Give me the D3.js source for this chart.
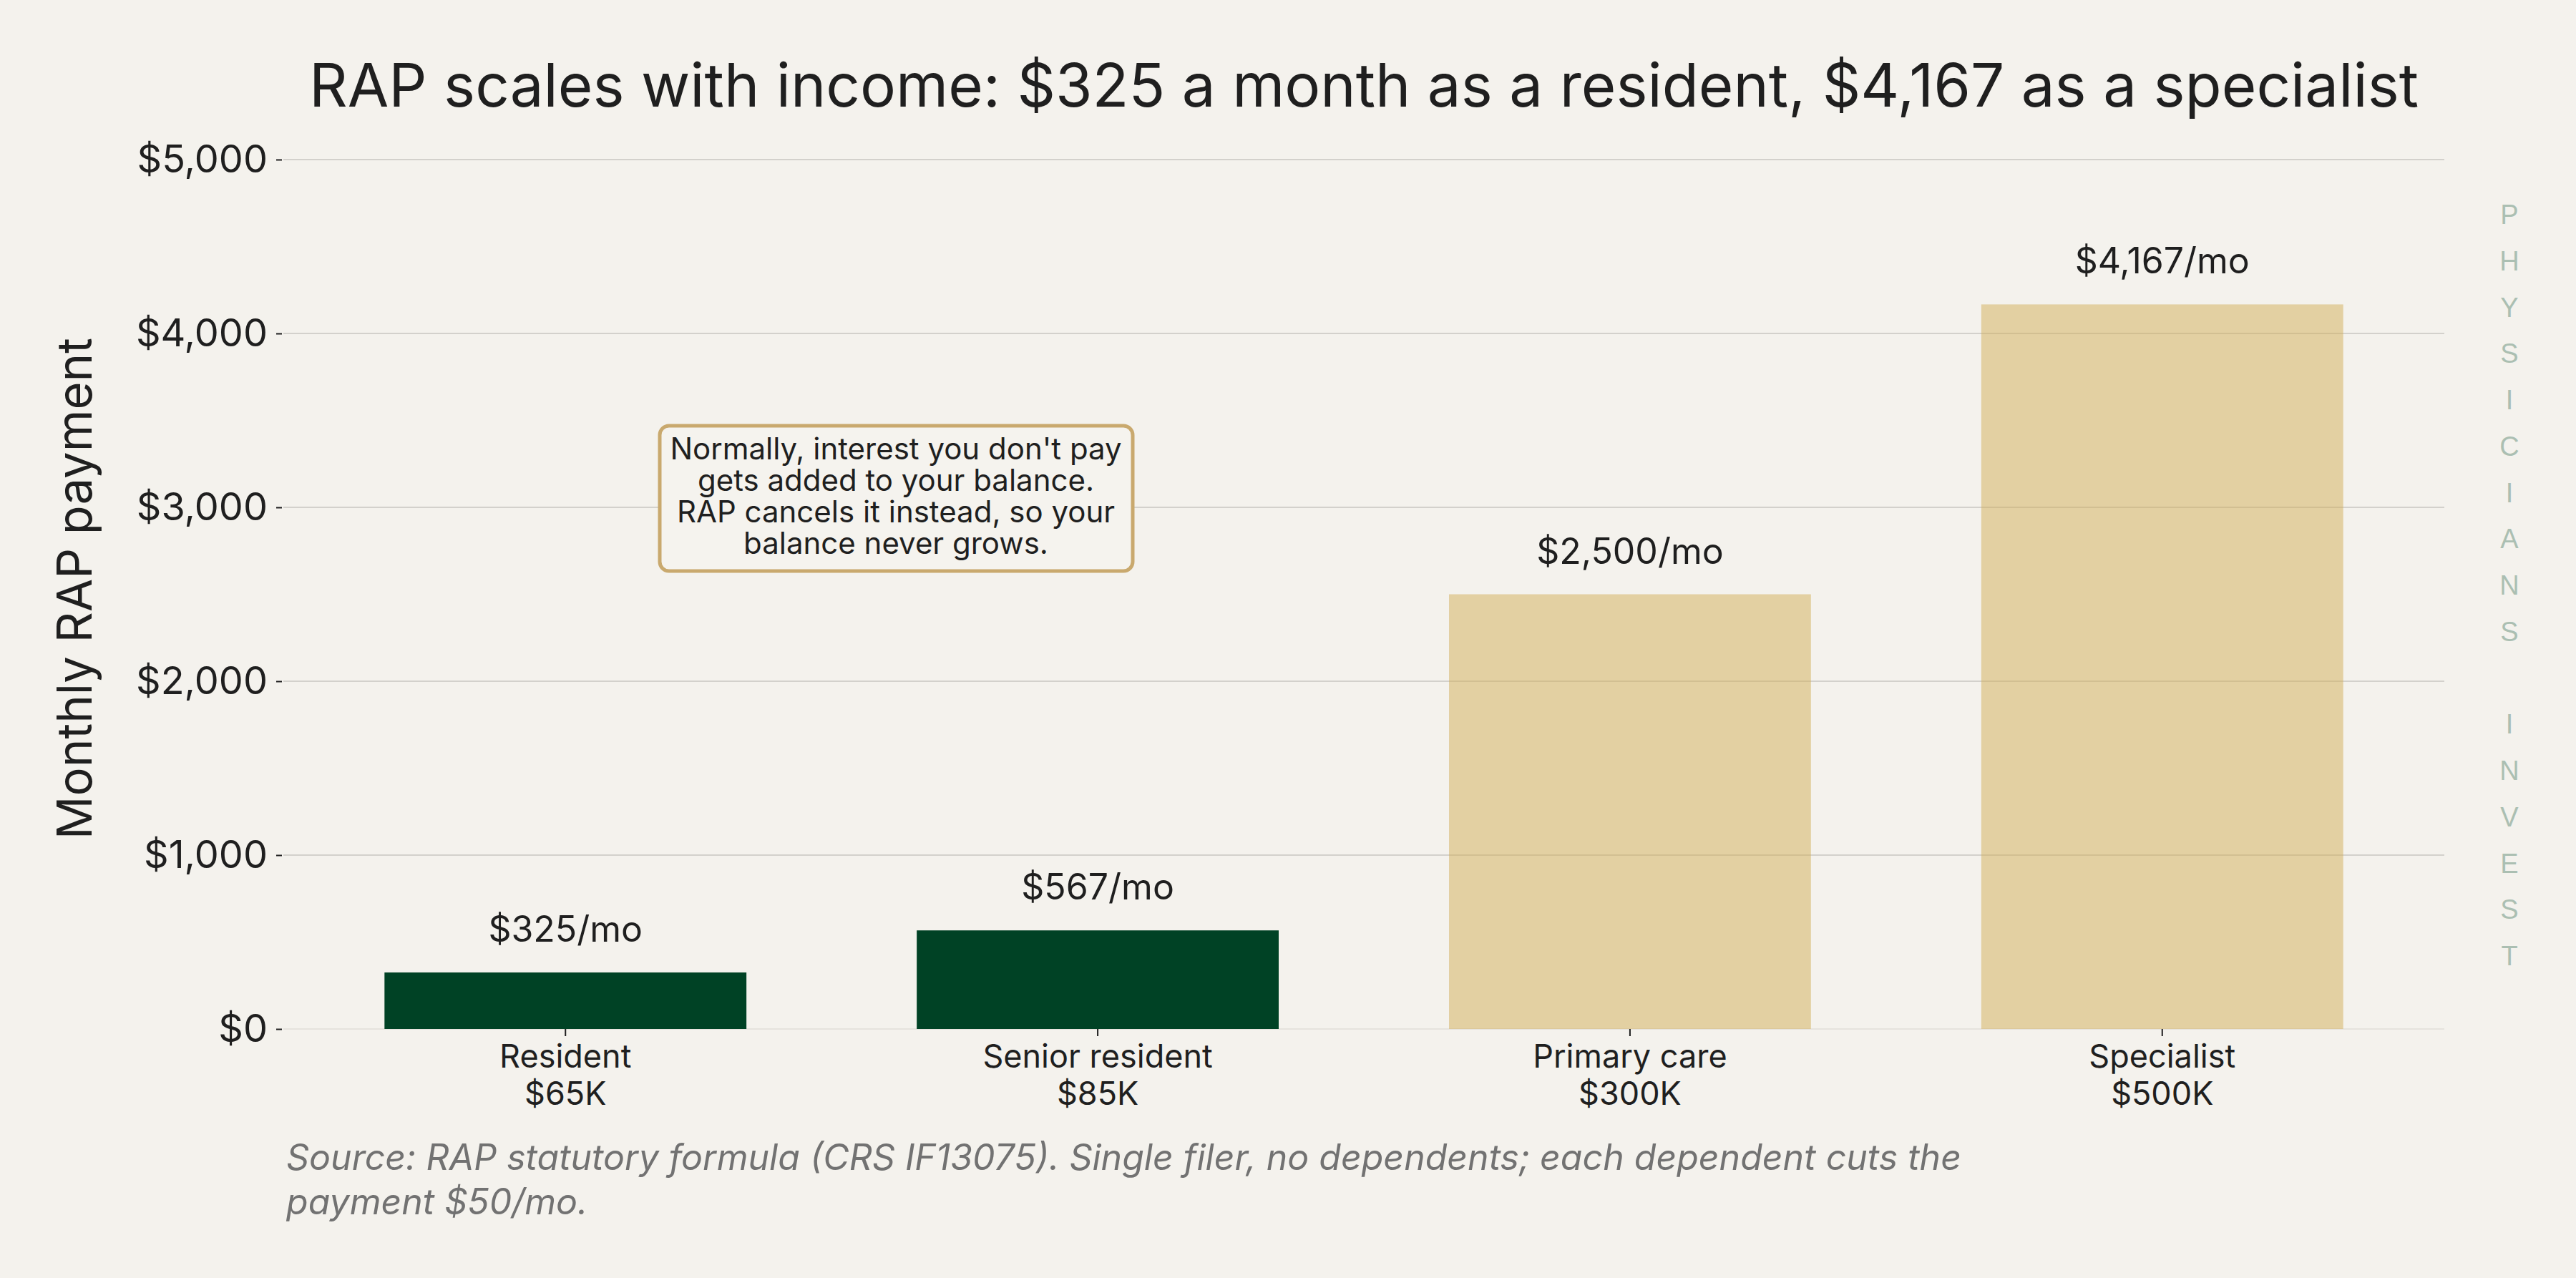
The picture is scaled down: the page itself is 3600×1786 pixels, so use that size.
<!DOCTYPE html>
<html>
<head>
<meta charset="utf-8">
<script src="https://cdn.jsdelivr.net/npm/d3@7"></script>
<style>
  html, body { margin: 0; padding: 0; background: #f4f2ed; }
  svg { display: block; }
</style>
</head>
<body>
<div id="chart"></div>
<script>
// chart data
const categories = ['Resident', 'Senior resident', 'Primary care', 'Specialist'];
const incomes = ['$65K', '$85K', '$300K', '$500K'];
const payments = [325, 567, 2500, 4167];
const stages = ['training', 'training', 'attending', 'attending'];
const yTicks = [0, 1000, 2000, 3000, 4000, 5000];
const noteLines = [
  "Normally, interest you don't pay",
  'gets added to your balance.',
  'RAP cancels it instead, so your',
  'balance never grows.'
];
const titleText = 'RAP scales with income: $325 a month as a resident, $4,167 as a specialist';
const sourceLines = [
  'Source: RAP statutory formula (CRS IF13075). Single filer, no dependents; each dependent cuts the',
  'payment $50/mo.'
];
const brand = 'PHYSICIANS INVEST';

function RapChart() {
  this.width = 3600;
  this.height = 1786;
  this.margin = { left: 396, right: 184, top: 223, bottom: 348 };
  this.font = 'Inter, "Noto Sans", sans-serif';
  this.ink = '#1f1f1f';

  this.draw = function(parent) {
    const svg = d3.select(parent).append('svg')
      .attr('width', this.width).attr('height', this.height);
    svg.append('rect').attr('width', this.width).attr('height', this.height).attr('fill', '#f4f2ed');

    const x0 = this.margin.left, x1 = this.width - this.margin.right;
    const y0 = this.height - this.margin.bottom, y1 = this.margin.top;

    const x = d3.scaleBand().domain(categories).range([x0, x1]).paddingInner(0.32).paddingOuter(0.19);
    const y = d3.scaleLinear().domain([0, 5000]).range([y0, y1]);

    // gridlines
    svg.append('g').selectAll('line').data(yTicks).enter().append('line')
      .attr('x1', x0).attr('x2', x1)
      .attr('y1', d => y(d)).attr('y2', d => y(d))
      .attr('stroke', d => d === 0 ? '#e6e3dd' : '#d3d1cc')
      .attr('stroke-width', 2);

    // y axis
    const yAxis = svg.append('g').attr('transform', 'translate(' + (x0 - 2) + ',0)')
      .call(d3.axisLeft(y).tickValues(yTicks).tickSize(8).tickPadding(12)
        .tickFormat(d => '$' + d3.format(',')(d)));
    yAxis.select('.domain').remove();
    yAxis.selectAll('line').attr('stroke', this.ink).attr('stroke-width', 2);
    yAxis.selectAll('text').attr('font-family', this.font).attr('font-size', 54).attr('fill', this.ink);

    // bars
    svg.append('g').selectAll('rect').data(payments).enter().append('rect')
      .attr('x', (d, i) => x(categories[i]))
      .attr('width', x.bandwidth())
      .attr('y', d => y(d))
      .attr('height', d => y0 - y(d))
      .attr('fill', (d, i) => stages[i] === 'training' ? '#004225' : '#d2ae57')
      .attr('fill-opacity', (d, i) => stages[i] === 'training' ? 1 : 0.5);

    // value labels
    svg.append('g').selectAll('text').data(payments).enter().append('text')
      .attr('x', (d, i) => x(categories[i]) + x.bandwidth() / 2)
      .attr('y', d => y(d) - 43)
      .attr('text-anchor', 'middle')
      .attr('font-family', this.font).attr('font-size', 50).attr('fill', this.ink)
      .text(d => '$' + d3.format(',')(d) + '/mo');

    // x axis
    const xAxis = svg.append('g').attr('transform', 'translate(0,' + y0 + ')')
      .call(d3.axisBottom(x).tickSize(10).tickFormat(''));
    xAxis.select('.domain').remove();
    xAxis.selectAll('line').attr('stroke', this.ink).attr('stroke-width', 2);
    xAxis.selectAll('.tick').each(function(d, i) {
      const t = d3.select(this).append('text')
        .attr('text-anchor', 'middle')
        .attr('font-family', 'Inter, sans-serif').attr('font-size', 45).attr('fill', '#1f1f1f');
      t.append('tspan').attr('x', 0).attr('y', 54).text(d);
      t.append('tspan').attr('x', 0).attr('y', 106).text(incomes[i]);
    });

    // y axis title
    svg.append('text')
      .attr('transform', 'translate(128,' + ((y0 + y1) / 2 - 8) + ') rotate(-90)')
      .attr('text-anchor', 'middle')
      .attr('font-family', this.font).attr('font-size', 67).attr('fill', this.ink)
      .text('Monthly RAP payment');

    // title
    svg.append('text')
      .attr('x', (x0 + x1) / 2).attr('y', 149)
      .attr('text-anchor', 'middle')
      .attr('font-family', this.font).attr('font-size', 83.5).attr('fill', this.ink)
      .text(titleText);

    // annotation box
    const note = svg.append('g');
    note.append('rect')
      .attr('x', 922).attr('y', 595).attr('width', 661).attr('height', 203)
      .attr('rx', 13).attr('ry', 13)
      .attr('fill', '#f5f3ee').attr('stroke', '#c9a96e').attr('stroke-width', 5);
    note.append('text')
      .attr('text-anchor', 'middle')
      .attr('font-family', this.font).attr('font-size', 42).attr('fill', this.ink)
      .selectAll('tspan').data(noteLines).enter().append('tspan')
      .attr('x', 1252).attr('y', (d, i) => 642 + i * 44)
      .text(d => d);

    // source
    svg.append('text')
      .attr('font-family', this.font).attr('font-size', 50).attr('font-style', 'italic').attr('fill', '#727272')
      .selectAll('tspan').data(sourceLines).enter().append('tspan')
      .attr('x', 400).attr('y', (d, i) => 1635 + i * 62)
      .text(d => d);

    // vertical brand mark
    svg.append('g').selectAll('text').data(brand.split('')).enter().append('text')
      .attr('x', 3507).attr('y', (d, i) => 300 + i * 64.75)
      .attr('text-anchor', 'middle').attr('dominant-baseline', 'central')
      .attr('font-family', '"Liberation Sans", Arial, sans-serif').attr('font-size', 38)
      .attr('fill', '#abbfb2')
      .text(d => d);
  };
}

const chart = new RapChart();
chart.draw('#chart');
</script>
</body>
</html>
